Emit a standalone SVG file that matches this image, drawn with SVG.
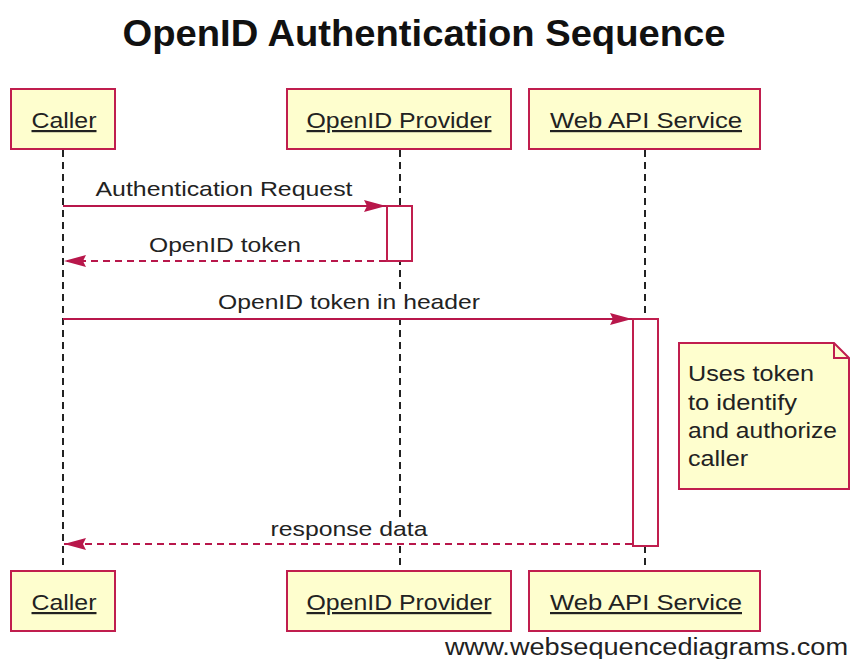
<svg xmlns="http://www.w3.org/2000/svg" width="851" height="659" viewBox="0 0 851 659">
<style>
.box{fill:#fefece;stroke:#c01e4e;stroke-width:2}
.lbl{font-family:"Liberation Sans",Arial,sans-serif;font-size:22px;fill:#222;text-anchor:middle;text-decoration:underline}
.life{stroke:#222;stroke-width:2;stroke-dasharray:7,5;fill:none}
.msg{stroke:#b8174b;stroke-width:2;fill:none}
.dash{stroke-dasharray:7,5}
.mt{font-family:"Liberation Sans",Arial,sans-serif;font-size:21px;fill:#222;text-anchor:middle}
.bg{fill:#fff}
.act{fill:#fff;stroke:#c01e4e;stroke-width:2}
.nt{font-family:"Liberation Sans",Arial,sans-serif;font-size:22px;fill:#222}
</style>
<defs>
<marker id="ah" markerWidth="24" markerHeight="14" refX="22" refY="7" orient="auto" markerUnits="userSpaceOnUse">
<path d="M0,1 L22,7 L0,13 L3,7 Z" fill="#b8174b"/>
</marker>
</defs>
<rect width="851" height="659" fill="#fff"/>
<text x="424" y="46" font-family="Liberation Sans,Arial,sans-serif" font-weight="bold" font-size="36" fill="#111" text-anchor="middle" textLength="603" lengthAdjust="spacingAndGlyphs">OpenID Authentication Sequence</text>
<g id="lifelines">
<line class="life" x1="63" y1="150" x2="63" y2="570"/>
<line class="life" x1="400" y1="150" x2="400" y2="570"/>
<line class="life" x1="645" y1="150" x2="645" y2="570"/>
</g>
<g id="caller-top"><rect class="box" x="11" y="89" width="104" height="60"/><text class="lbl" x="64" y="128" textLength="65" lengthAdjust="spacingAndGlyphs">Caller</text></g>
<g id="provider-top"><rect class="box" x="287" y="89" width="224" height="60"/><text class="lbl" x="399" y="128" textLength="185" lengthAdjust="spacingAndGlyphs">OpenID Provider</text></g>
<g id="webapi-top"><rect class="box" x="529" y="89" width="231" height="60"/><text class="lbl" x="646" y="128" textLength="192" lengthAdjust="spacingAndGlyphs">Web API Service</text></g>
<g id="act-provider"><rect class="act" x="387" y="206" width="25" height="55"/></g>
<g id="act-webapi"><rect class="act" x="633" y="319" width="25" height="227"/></g>
<g id="connectors">
<line class="msg" x1="63" y1="206" x2="386" y2="206" marker-end="url(#ah)"/>
<rect class="bg" x="94" y="178" width="261" height="23"/>
<text class="mt" x="224" y="196" textLength="257" lengthAdjust="spacingAndGlyphs">Authentication Request</text>
<line class="msg dash" x1="386" y1="261" x2="64" y2="261" marker-end="url(#ah)"/>
<rect class="bg" x="147" y="234" width="156" height="23"/>
<text class="mt" x="225" y="252" textLength="152" lengthAdjust="spacingAndGlyphs">OpenID token</text>
<line class="msg" x1="63" y1="319" x2="632" y2="319" marker-end="url(#ah)"/>
<rect class="bg" x="216" y="291" width="266" height="23"/>
<text class="mt" x="349" y="309" textLength="262" lengthAdjust="spacingAndGlyphs">OpenID token in header</text>
<line class="msg dash" x1="632" y1="544" x2="64" y2="544" marker-end="url(#ah)"/>
<rect class="bg" x="269" y="518" width="161" height="23"/>
<text class="mt" x="349" y="536" textLength="157" lengthAdjust="spacingAndGlyphs">response data</text>
</g>
<g id="note">
<path d="M679,343 L834,343 L849,358 L849,489 L679,489 Z" fill="#fefece" stroke="#c01e4e" stroke-width="2"/>
<path d="M834,343 L834,358 L849,358" fill="none" stroke="#c01e4e" stroke-width="2"/>
<text class="nt" x="688" y="381" textLength="126" lengthAdjust="spacingAndGlyphs">Uses token</text>
<text class="nt" x="688" y="410" textLength="109" lengthAdjust="spacingAndGlyphs">to identify</text>
<text class="nt" x="688" y="438" textLength="149" lengthAdjust="spacingAndGlyphs">and authorize</text>
<text class="nt" x="688" y="466" textLength="60" lengthAdjust="spacingAndGlyphs">caller</text>
</g>
<g id="caller-bottom"><rect class="box" x="11" y="571" width="104" height="60"/><text class="lbl" x="64" y="610" textLength="65" lengthAdjust="spacingAndGlyphs">Caller</text></g>
<g id="provider-bottom"><rect class="box" x="287" y="571" width="224" height="60"/><text class="lbl" x="399" y="610" textLength="185" lengthAdjust="spacingAndGlyphs">OpenID Provider</text></g>
<g id="webapi-bottom"><rect class="box" x="529" y="571" width="231" height="60"/><text class="lbl" x="646" y="610" textLength="192" lengthAdjust="spacingAndGlyphs">Web API Service</text></g>
<text x="445" y="655" font-family="Liberation Sans,Arial,sans-serif" font-size="23" fill="#222" textLength="403" lengthAdjust="spacingAndGlyphs">www.websequencediagrams.com</text>
</svg>
